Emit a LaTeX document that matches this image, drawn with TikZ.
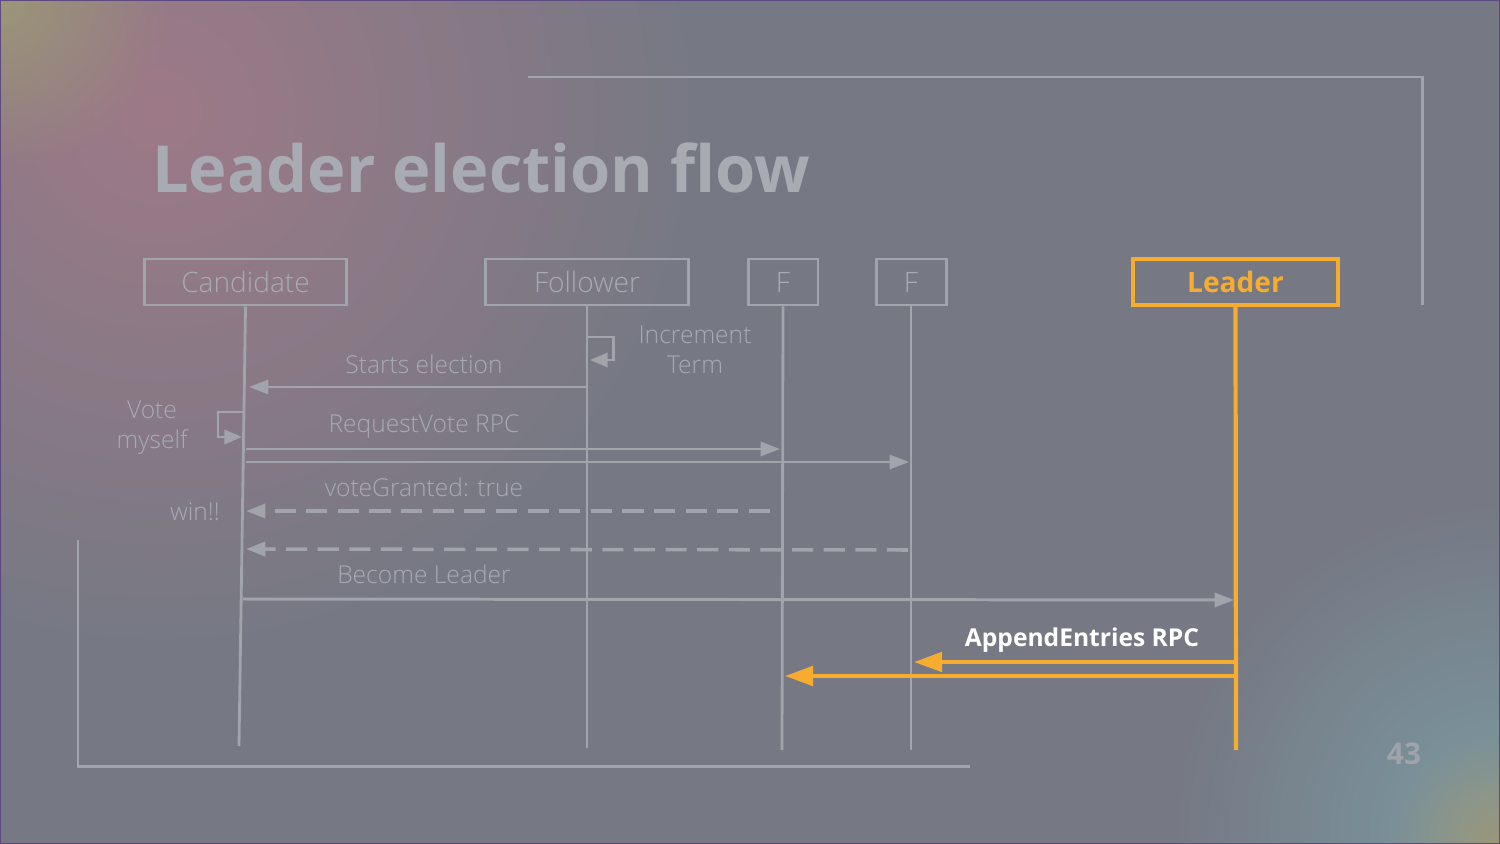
\documentclass[tikz,border=0pt]{standalone}
\usepackage{fontspec}
\setmainfont{Open Sans}
\IfFontExistsTF{Open Sans Light}
  {\newfontfamily\thinfont{Open Sans Light}}
  {\newfontfamily\thinfont{Open Sans}}
\usetikzlibrary{arrows.meta,positioning,fadings}

\definecolor{bgbase}{HTML}{767984}
\definecolor{bgpink}{HTML}{9E7A88}
\definecolor{bgsand}{HTML}{9C9678}
\definecolor{bgteal}{HTML}{7C9AA2}
\definecolor{framec}{HTML}{5C4A80}
\definecolor{lineg}{HTML}{A1A4AB}
\definecolor{textg}{HTML}{A8ABB2}
\definecolor{leadc}{HTML}{F6AC2E}

\tikzfading[name=glow, inner color=transparent!0, outer color=transparent!100]

\tikzset{
  actor/.style={draw=lineg, line width=1.7pt, minimum height=0.92cm, text=textg,
    inner sep=0pt, font=\thinfont\fontsize{16}{19}\selectfont},
  lifeline/.style={draw=lineg, line width=1.6pt},
  msgline/.style={draw=lineg, line width=1.7pt, -{Triangle[length=11pt,width=8pt]}},
  replyline/.style={msgline, line width=2pt, dash pattern=on 12pt off 6pt},
  leadline/.style={draw=leadc, line width=2.4pt, -{Triangle[length=16pt,width=11pt]}},
  msglabel/.style={text=textg, font=\thinfont\fontsize{14}{18}\selectfont, align=center},
}

\begin{document}
\begin{tikzpicture}[x=0.02cm,y=-0.02cm,line join=miter]

\useasboundingbox (0,0) rectangle (1500,844);

% background
\begin{scope}
\clip (0,0) rectangle (1500,844);
\fill[bgbase] (0,0) rectangle (1500,844);
\fill[bgpink, path fading=glow] (160,110) circle (540);
\fill[bgsand, path fading=glow] (0,0) circle (170);
\fill[bgteal, path fading=glow] (1500,830) circle (330);
\fill[bgsand, path fading=glow] (1500,844) circle (110);
\end{scope}
\draw[framec, line width=0.8pt] (0.5,0.5) rectangle (1499.5,843.5);

% frame lines
\coordinate (TF1) at (528,77);
\coordinate (TF2) at (1422,77);
\coordinate (TF3) at (1422,305);
\coordinate (BF1) at (78,540);
\coordinate (BF2) at (78,766);
\coordinate (BF3) at (970,766);
\draw[lineg, line width=1.7pt] (TF1)--(TF2)--(TF3);
\draw[lineg, line width=1.7pt] (BF1)--(BF2)--(BF3);

\node[anchor=west, text=textg, font=\fontsize{37}{44}\selectfont\bfseries] (title) at (146,168) {Leader election flow};

% actors
\node[actor, minimum width=4.06cm] (cand) at (245.5,282) {Candidate};
\node[actor, minimum width=4.08cm] (foll) at (587,282) {Follower};
\node[actor, minimum width=1.4cm] (fa) at (783,282) {F};
\node[actor, minimum width=1.4cm] (fb) at (911,282) {F};
\node[actor, minimum width=4.1cm, draw=leadc, text=leadc, line width=2.3pt, font=\fontsize{16}{19}\selectfont\bfseries] (lead) at (1235.5,282) {Leader};

% lifelines
\coordinate (candEnd) at (239,746);
\coordinate (follEnd) at (587,748);
\coordinate (faEnd) at (782,750);
\coordinate (fbEnd) at (911,750);
\coordinate (leadEnd) at (1236,750);
\draw[lifeline] (cand.south)--(candEnd);
\draw[lifeline] (foll.south)--(follEnd);
\draw[lifeline] (fa.south)--(faEnd);
\draw[lifeline] (fb.south)--(fbEnd);
\draw[leadc, line width=2.4pt] (lead.south)--(leadEnd);

% increment term
\coordinate (IT1) at (587,337);
\coordinate (IT2) at (590,360);
\draw[msgline, -{Triangle[length=10pt,width=8pt]}] (IT1) -- ++(26,0) |- (IT2);
\node[msglabel] (incr) at (695,350) {Increment\\[-1pt]Term};

% starts election
\coordinate (SE1) at (587,387);
\coordinate (SE2) at (249,387);
\draw[msgline] (SE1)--(SE2);
\node[msglabel] (start) at (424,364) {Starts election};

% vote myself
\coordinate (VM1) at (243,412);
\coordinate (VM2) at (242,437);
\draw[msgline, -{Triangle[length=10pt,width=8pt]}] (VM1) -- ++(-25,0) |- (VM2);
\node[msglabel] (vote) at (152,428) {Vote\\[-1pt]myself};

% request vote
\coordinate (RV1) at (246,449);
\coordinate (RV2) at (780,449);
\coordinate (RV3) at (246,462);
\coordinate (RV4) at (909,462);
\draw[msgline] (RV1)--(RV2);
\draw[msgline] (RV3)--(RV4);
\node[msglabel] (reqv) at (424,427) {RequestVote RPC};

% vote granted
\coordinate (VG1) at (770,511);
\coordinate (VG2) at (246,511);
\coordinate (VG3) at (908,550);
\coordinate (VG4) at (246,549);
\draw[replyline] (VG1)--(VG2);
\draw[replyline] (VG3)--(VG4);
\node[msglabel] (grant) at (424,487) {voteGranted: true};
\node[msglabel, anchor=east] (win) at (226,512) {win!!};

% become leader
\coordinate (BL1) at (243,599);
\coordinate (BL2) at (1234,600);
\draw[msgline] (BL1)--(BL2);
\node[msglabel] (become) at (424,574) {Become Leader};

% append entries
\coordinate (AE1) at (1234,662);
\coordinate (AE2) at (914,662);
\coordinate (AE3) at (1234,676);
\coordinate (AE4) at (785,676);
\draw[leadline] (AE1)--(AE2);
\draw[leadline] (AE3)--(AE4);
\node[text=white, font=\fontsize{14}{17}\selectfont\bfseries] (append) at (1082,640) {AppendEntries RPC};

\node[text=textg!85!bgbase, font=\fontsize{17}{20}\selectfont\bfseries] (page) at (1404,754) {43};

\end{tikzpicture}
\end{document}
